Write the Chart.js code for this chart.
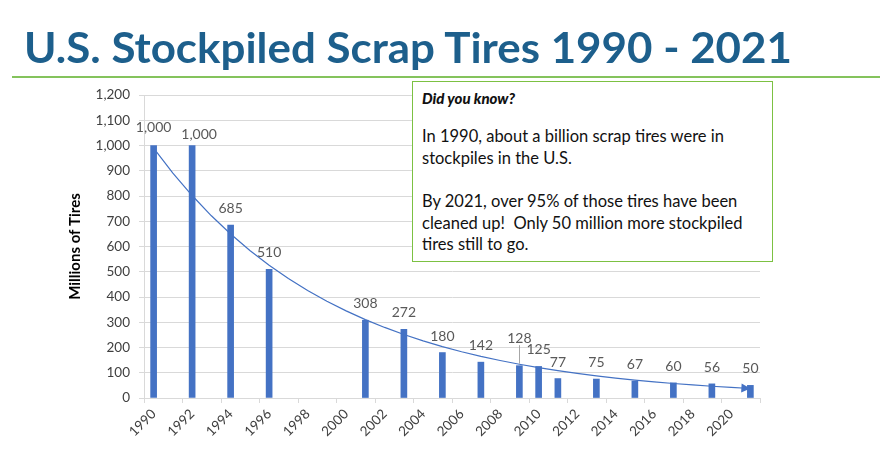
<!DOCTYPE html>
<html>
<head>
<meta charset="utf-8">
<script src="https://cdn.jsdelivr.net/npm/chart.js@4.4.1/dist/chart.umd.min.js"></script>
<style>
  body { margin: 0; background: #fff; }
  #page { position: relative; width: 896px; height: 454px; overflow: hidden; font-family: Lato, sans-serif; }
  #chart { position: absolute; left: 0; top: 0; }
  #title { position: absolute; left: 24px; top: 26px; display: inline-block; font-weight: 700; font-size: 42px; line-height: 42px; color: #1d5f8c; white-space: nowrap; transform-origin: left top; }
  #rule { position: absolute; left: 12px; top: 76px; width: 868px; height: 2px; background: #84c35c; }
  #note { position: absolute; left: 412px; top: 81px; width: 361px; height: 181px; box-sizing: border-box; border: 1.5px solid #7cc142; background: #fff; padding: 5px 0 0 9px; color: #111; }
  #note .head { font-weight: 900; font-style: italic; font-size: 15px; line-height: 22px; }
  #note p { margin: 17px 0 0; font-size: 16.5px; line-height: 21.6px; }
  #note p + p { margin-top: 22px; }
</style>
</head>
<body>
<div id="page">
  <canvas id="chart" width="896" height="454"></canvas>
  <div id="title">U.S. Stockpiled Scrap Tires 1990 - 2021</div>
  <div id="rule"></div>
  <div id="note">
    <div class="head">Did you know?</div>
    <p>In 1990, about a billion scrap tires were in<br>stockpiles in the U.S.</p>
    <p>By 2021, over 95% of those tires have been<br>cleaned up!&nbsp; Only 50 million more stockpiled<br>tires still to go.</p>
  </div>
</div>
<script>
// one category per year, bars only where there is a survey value
const years = ['1990','1991','1992','1993','1994','1995','1996','1997','1998','1999',
               '2000','2001','2002','2003','2004','2005','2006','2007','2008','2009',
               '2010','2011','2012','2013','2014','2015','2016','2017','2018','2019',
               '2020','2021']
const stockpiled = [1000, null, 1000, null, 685, null, 510, null, null, null,
                    null, 308, null, 272, null, 180, null, 142, null, 128,
                    125, 77, null, 75, null, 67, null, 60, null, 56,
                    null, 50]
const yTicks = [0, 100, 200, 300, 400, 500, 600, 700, 800, 900, 1000, 1100, 1200]

// fit the title to the width it has in the slide
const title = document.getElementById('title')
title.style.transform = 'scaleX(' + (768 / title.getBoundingClientRect().width) + ')'

// exponential trendline (least squares on ln y), like the spreadsheet one
function expTrend(values){
    let pts = []
    values.forEach((v, i) => { if (v !== null) pts.push([i, Math.log(v)]) })
    const n = pts.length
    const mx = pts.reduce((s, p) => s + p[0], 0) / n
    const my = pts.reduce((s, p) => s + p[1], 0) / n
    let sxy = 0, sxx = 0
    pts.forEach(p => { sxy += (p[0] - mx) * (p[1] - my); sxx += (p[0] - mx) ** 2 })
    const b = sxy / sxx
    const a = my - b * mx
    return values.map((v, i) => Math.exp(a + b * i))
}
const trend = expTrend(stockpiled)

// labels that were dragged off their default spot in the original
const labelNudge = { '1990': [0, -2], '1992': [7, 5], '2009': [0, -11] }

const barLabels = {
    id: 'barLabels',
    afterDatasetsDraw(chart){
        const ctx = chart.ctx
        const bars = chart.getDatasetMeta(1).data
        ctx.save()
        ctx.font = '14px Lato'
        ctx.fillStyle = '#595959'
        ctx.textAlign = 'center'
        ctx.textBaseline = 'middle'
        bars.forEach((bar, i) => {
            const v = stockpiled[i]
            if (v === null) return
            const nudge = labelNudge[years[i]] || [0, 0]
            const x = bar.x + nudge[0]
            const y = bar.y - 16.5 + nudge[1]
            ctx.fillText(v.toLocaleString('en-US'), x, y)
            if (years[i] === '2009'){
                ctx.strokeStyle = '#a6a6a6'
                ctx.lineWidth = 1
                ctx.beginPath()
                ctx.moveTo(Math.round(x) + 0.5, y + 7)
                ctx.lineTo(Math.round(x) + 0.5, bar.y - 2)
                ctx.stroke()
            }
        })

        // arrow head at the end of the trendline
        const pts = chart.getDatasetMeta(0).data
        const end = pts[pts.length - 1], prev = pts[pts.length - 2]
        const ang = Math.atan2(end.y - prev.y, end.x - prev.x)
        ctx.fillStyle = '#4472c4'
        ctx.translate(end.x, end.y)
        ctx.rotate(ang)
        ctx.beginPath()
        ctx.moveTo(0, 0)
        ctx.lineTo(-9, -4.5)
        ctx.lineTo(-9, 4.5)
        ctx.closePath()
        ctx.fill()
        ctx.restore()
    }
}

new Chart(document.getElementById('chart'), {
    type: 'bar',
    data: {
        labels: years,
        datasets: [
            {
                type: 'line',
                label: 'Expon. trend',
                data: trend,
                borderColor: '#4472c4',
                borderWidth: 1.2,
                pointRadius: 0,
                order: 0
            },
            {
                label: 'Stockpiled tires',
                data: stockpiled,
                backgroundColor: '#4472c4',
                barThickness: 6,
                order: 1
            }
        ]
    },
    options: {
        responsive: false,
        animation: false,
        devicePixelRatio: 1,
        layout: { padding: { left: 64, top: 95, right: 136, bottom: 0 } },
        plugins: { legend: { display: false }, tooltip: { enabled: false } },
        scales: {
            x: {
                offset: true,
                grid: {
                    offset: true,
                    drawOnChartArea: false,
                    tickLength: 5,
                    color: c => (c.index === undefined || c.index % 2 === 0) ? '#d9d9d9' : 'rgba(0,0,0,0)'
                },
                border: { color: '#d9d9d9' },
                ticks: {
                    autoSkip: false,
                    minRotation: 45,
                    maxRotation: 45,
                    color: '#404040',
                    font: { family: 'Lato', size: 13.5 },
                    callback: (v, i) => i % 2 === 0 ? years[i] : ''
                },
                afterFit: scale => { scale.height = 56 }
            },
            y: {
                min: 0,
                max: 1200,
                afterBuildTicks: scale => { scale.ticks = yTicks.map(v => ({ value: v })) },
                grid: { color: '#d9d9d9', tickLength: 5 },
                border: { color: '#d9d9d9' },
                ticks: {
                    padding: 9,
                    color: '#404040',
                    font: { family: 'Lato', size: 13.5 },
                    callback: v => v.toLocaleString('en-US')
                },
                title: {
                    display: true,
                    text: 'Millions of Tires',
                    color: '#000',
                    padding: { top: 2, bottom: 4 },
                    font: { family: 'Lato', size: 15, weight: 'bold' }
                },
                afterFit: scale => { scale.width = 80 }
            }
        }
    },
    plugins: [barLabels]
})
</script>
</body>
</html>
